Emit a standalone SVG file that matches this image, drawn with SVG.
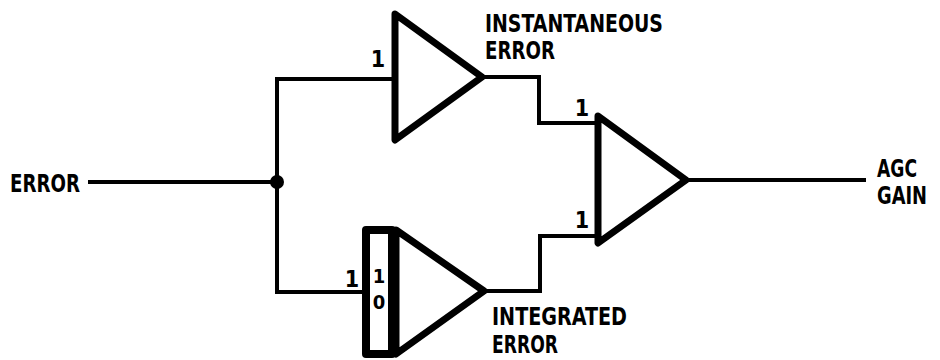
<svg xmlns="http://www.w3.org/2000/svg" width="940" height="360" viewBox="0 0 940 360">
<style>
.wire{fill:none;stroke:#000;stroke-width:4;stroke-linejoin:miter;stroke-linecap:square}
.amp{fill:#fff;stroke:#000;stroke-width:7;stroke-linejoin:round}
.lbl{font-family:"DejaVu Sans Condensed","DejaVu Sans","Liberation Sans",sans-serif;font-weight:bold;font-size:25px;fill:#000}
.num{font-family:"DejaVu Sans Condensed","DejaVu Sans","Liberation Sans",sans-serif;font-weight:bold;font-size:23px;fill:#000;text-anchor:middle}
.in{font-size:20px}
</style>
<rect width="940" height="360" fill="#fff"/>
<g id="connectors">
<path class="wire" d="M90 182 H277"/>
<path class="wire" d="M392 79 H277 V292 H362"/>
<path class="wire" d="M483 77 H539 V123 H597"/>
<path class="wire" d="M485 291 H540 V236 H597"/>
<path class="wire" d="M687 180 H864"/>
<circle cx="277" cy="182" r="7" fill="#000"/>
</g>
<g id="input-error">
<text class="lbl" x="10" y="192" textLength="70" lengthAdjust="spacingAndGlyphs">ERROR</text>
</g>
<g id="amp-instantaneous">
<polygon class="amp" points="395,14 482,77 395,140"/>
<text class="num" x="378" y="67">1</text>
<text class="lbl" x="485" y="32" textLength="178" lengthAdjust="spacingAndGlyphs">INSTANTANEOUS</text>
<text class="lbl" x="485" y="59" textLength="70" lengthAdjust="spacingAndGlyphs">ERROR</text>
</g>
<g id="amp-integrator">
<rect x="366" y="230" width="26" height="124" fill="#fff" stroke="#000" stroke-width="8" stroke-linejoin="round"/>
<polygon class="amp" points="396,230 484,291 396,354"/>
<text class="num" x="352" y="287">1</text>
<text class="num in" x="379" y="283">1</text>
<text class="num in" x="379" y="309">0</text>
<text class="lbl" x="492" y="325" textLength="135" lengthAdjust="spacingAndGlyphs">INTEGRATED</text>
<text class="lbl" x="492" y="353" textLength="66" lengthAdjust="spacingAndGlyphs">ERROR</text>
</g>
<g id="amp-sum">
<polygon class="amp" points="598,116 686,180 598,243"/>
<text class="num" x="582" y="116">1</text>
<text class="num" x="582" y="228">1</text>
</g>
<g id="output-agc-gain">
<text class="lbl" x="877" y="177" textLength="40" lengthAdjust="spacingAndGlyphs">AGC</text>
<text class="lbl" x="877" y="204" textLength="50" lengthAdjust="spacingAndGlyphs">GAIN</text>
</g>
</svg>
